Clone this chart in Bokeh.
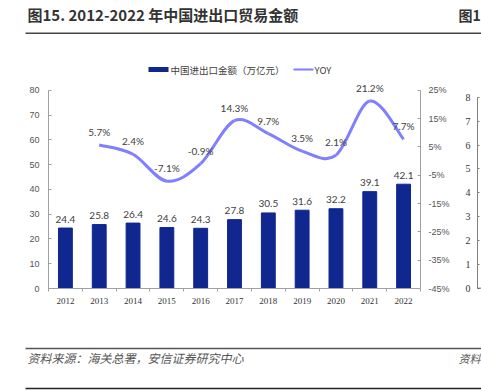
from bokeh.plotting import figure
from bokeh.layouts import column, row
from bokeh.models import (Range1d, LinearAxis, FixedTicker, PrintfTickFormatter,
                          Label, BoxAnnotation, ColumnDataSource, Span)
from bokeh.core.properties import value
from bokeh.embed import file_html
from bokeh.resources import INLINE

# ---------------- data ----------------
years = [2012, 2013, 2014, 2015, 2016, 2017, 2018, 2019, 2020, 2021, 2022]
trade = [24.4, 25.8, 26.4, 24.6, 24.3, 27.8, 30.5, 31.6, 32.2, 39.1, 42.1]
yoy_years = [2013, 2014, 2015, 2016, 2017, 2018, 2019, 2020, 2021, 2022]
yoy = [5.7, 2.4, -7.1, -0.9, 14.3, 9.7, 3.5, 2.1, 21.2, 7.7]
left_ticks = [0, 10, 20, 30, 40, 50, 60, 70, 80]
right_ticks = [-45, -35, -25, -15, -5, 5, 15, 25]
side_ticks = [0, 1, 2, 3, 4, 5, 6, 7, 8]
title_text = "图15. 2012-2022 年中国进出口贸易金额"
side_title = "图1"
source_text = "资料来源：海关总署，安信证券研究中心"
side_source = "资料"
legend_labels = ["中国进出口金额（万亿元）", "YOY"]

BAR = "#10278f"
LINE = "#7f7fff"
AX = "#a0a0a0"
TXT = "#404040"
CJK = "Noto Sans CJK SC"


def blank(w, h):
    f = figure(width=w, height=h, output_backend="svg", toolbar_location=None,
               x_axis_type=None, y_axis_type=None, min_border=0,
               x_range=Range1d(0, 1), y_range=Range1d(0, 1))
    f.outline_line_color = None
    f.grid.visible = False
    return f


def box(f, l, r, b, t, c):
    f.add_layout(BoxAnnotation(left=l, right=r, bottom=b, top=t,
                               left_units="screen", right_units="screen",
                               bottom_units="screen", top_units="screen",
                               fill_color=c, fill_alpha=1, line_color=None))


def label(f, x, y, text, font, size, color, style="normal", align="left"):
    f.add_layout(Label(x=x, y=y, x_units="screen", y_units="screen", text=text,
                       text_font=font, text_font_size=size, text_font_style=style,
                       text_color=color, text_baseline="middle", text_align=align))


# ---------------- header (title + legend) ----------------
hdr = blank(481, 80)
label(hdr, 27, 66, title_text, CJK, "15px", "#333333", "bold")
label(hdr, 458, 66, side_title, CJK, "14px", "#333333", "bold")
box(hdr, 25, 481, 46.5, 48, "#444444")
box(hdr, 148, 168, 8.5, 13.5, BAR)
label(hdr, 170, 11, legend_labels[0], CJK, "9.5px", TXT)
box(hdr, 293, 313, 10, 12, LINE)
label(hdr, 314, 11, legend_labels[1], CJK, "9.5px", TXT)

# ---------------- main chart ----------------
top_px = 212.0   # frame height in px
axis_px = 202.0  # px from 0 to 80 on left axis
p = figure(width=452, height=255, output_backend="svg", toolbar_location=None,
           x_range=Range1d(2011.5, 2022.5),
           y_range=Range1d(0, 80 * top_px / axis_px),
           min_border_left=48, min_border_right=31, min_border_top=0,
           min_border_bottom=43)
p.outline_line_color = None
p.grid.visible = False

p.xaxis.ticker = FixedTicker(ticks=years,
                             minor_ticks=[y - 0.5 for y in years] + [years[-1] + 0.5])
p.xaxis.axis_line_color = AX
p.xaxis.major_tick_line_color = None
p.xaxis.minor_tick_line_color = AX
p.xaxis.minor_tick_in = 0
p.xaxis.minor_tick_out = 3
p.xaxis.major_tick_out = 0
p.xaxis.major_label_standoff = 6
p.xaxis.major_label_text_font = "Liberation Serif"
p.xaxis.major_label_text_font_size = "9px"
p.xaxis.major_label_text_color = "#333333"

p.yaxis.ticker = FixedTicker(ticks=left_ticks)
p.yaxis.bounds = (0, 80)
p.yaxis.axis_line_color = AX
p.yaxis.major_tick_line_color = AX
p.yaxis.major_tick_in = 3
p.yaxis.major_tick_out = 0
p.yaxis.minor_tick_line_color = None
p.yaxis.major_label_standoff = 9
p.yaxis.major_label_text_font = "Liberation Sans"
p.yaxis.major_label_text_font_size = "9px"
p.yaxis.major_label_text_color = "#555555"

p.extra_y_ranges = {"yoy": Range1d(-45, -45 + 70 * top_px / axis_px)}
ra = LinearAxis(y_range_name="yoy", ticker=FixedTicker(ticks=right_ticks),
                formatter=PrintfTickFormatter(format="%d%%"), bounds=(-45, 25))
ra.axis_line_color = AX
ra.major_tick_line_color = AX
ra.major_tick_in = 3
ra.major_tick_out = 0
ra.minor_tick_line_color = None
ra.major_label_standoff = 8
ra.major_label_text_font = "Liberation Sans"
ra.major_label_text_font_size = "9px"
ra.major_label_text_color = "#555555"
p.add_layout(ra, "right")

bsrc = ColumnDataSource(dict(x=years, top=trade, lab=[f"{v:.1f}" for v in trade]))
p.vbar(x="x", top="top", width=0.41, source=bsrc, fill_color=BAR, line_color=BAR)
p.text(x="x", y="top", text="lab", source=bsrc, text_align="center",
       text_baseline="middle", y_offset=-9, text_font=value("Lato"),
       text_font_size="10px", text_color=TXT)

# smooth YOY line: bezier segments through the data points
n = len(yoy)
seg = dict(x0=[], y0=[], x1=[], y1=[], cx0=[], cy0=[], cx1=[], cy1=[])
for i in range(n - 1):
    a = i - 1 if i > 0 else i
    d = i + 2 if i + 2 < n else i + 1
    seg["x0"].append(yoy_years[i]); seg["y0"].append(yoy[i])
    seg["x1"].append(yoy_years[i + 1]); seg["y1"].append(yoy[i + 1])
    seg["cx0"].append(yoy_years[i] + (yoy_years[i + 1] - yoy_years[a]) / 6)
    seg["cy0"].append(yoy[i] + (yoy[i + 1] - yoy[a]) / 6)
    seg["cx1"].append(yoy_years[i + 1] - (yoy_years[d] - yoy_years[i]) / 6)
    seg["cy1"].append(yoy[i + 1] - (yoy[d] - yoy[i]) / 6)
p.bezier(x0="x0", y0="y0", x1="x1", y1="y1", cx0="cx0", cy0="cy0", cx1="cx1",
         cy1="cy1", source=ColumnDataSource(seg), line_color=LINE, line_width=3,
         y_range_name="yoy")
lsrc = ColumnDataSource(dict(x=yoy_years, y=yoy, lab=[f"{v:.1f}%" for v in yoy]))
p.text(x="x", y="y", text="lab", source=lsrc, text_align="center",
       text_baseline="middle", y_offset=-13, text_font=value("Lato"),
       text_font_size="10px", text_color=TXT, y_range_name="yoy")

# ---------------- clipped neighbouring chart (left axis only) ----------------
s = figure(width=29, height=255, output_backend="svg", toolbar_location=None,
           x_range=Range1d(0, 1), y_range=Range1d(0, 8 * (287.7 - 80) / 191.0),
           x_axis_type=None, min_border_left=25, min_border_right=0,
           min_border_top=0, min_border_bottom=47)
s.outline_line_color = None
s.grid.visible = False
s.yaxis.ticker = FixedTicker(ticks=side_ticks)
s.yaxis.bounds = (0, 8)
s.yaxis.axis_line_color = "#808080"
s.yaxis.major_tick_line_color = "#808080"
s.yaxis.major_tick_in = 2
s.yaxis.major_tick_out = 0
s.yaxis.minor_tick_line_color = None
s.yaxis.major_label_standoff = 7
s.yaxis.major_label_text_font = "Liberation Serif"
s.yaxis.major_label_text_font_size = "10px"
s.yaxis.major_label_text_color = "#333333"
s.add_layout(Span(location=0, dimension="width", line_color="#404040", line_width=1.5))

# ---------------- footer ----------------
ftr = blank(481, 56)
box(ftr, 25, 481, 42.3, 43.8, "#555555")
label(ftr, 27, 34, source_text, CJK, "12px", "#555555", "italic")
label(ftr, 458, 34, side_source, CJK, "11px", "#555555", "italic")
box(ftr, 25, 481, 2.3, 3.8, "#222222")

layout = column(hdr, row(p, s), ftr)
open("out.html", "w").write(file_html(layout, INLINE))
